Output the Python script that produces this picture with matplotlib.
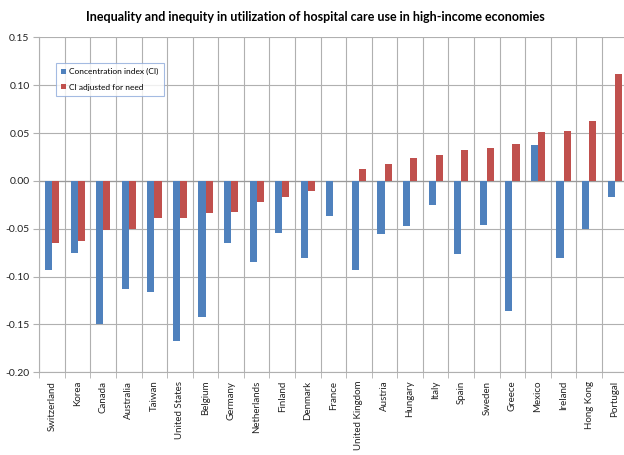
import numpy as np
import matplotlib.pyplot as plt

plt.rcParams['font.family'] = ['Lato', 'DejaVu Sans']

countries = ['Switzerland', 'Korea', 'Canada', 'Australia', 'Taiwan', 'United States',
             'Belgium', 'Germany', 'Netherlands', 'Finland', 'Denmark', 'France',
             'United Kingdom', 'Austria', 'Hungary', 'Italy', 'Spain', 'Sweden',
             'Greece', 'Mexico', 'Ireland', 'Hong Kong', 'Portugal']
ci = [-0.093, -0.075, -0.150, -0.113, -0.116, -0.167, -0.142, -0.065, -0.085, -0.054,
      -0.081, -0.037, -0.093, -0.055, -0.047, -0.025, -0.076, -0.046, -0.136, 0.038,
      -0.081, -0.050, -0.017]
ci_adj = [-0.065, -0.063, -0.051, -0.050, -0.039, -0.039, -0.034, -0.033, -0.022, -0.017,
          -0.011, 0.0, 0.012, 0.018, 0.024, 0.027, 0.032, 0.034, 0.039, 0.051,
          0.052, 0.063, 0.112]
yticks = [0.15, 0.10, 0.05, 0.00, -0.05, -0.10, -0.15, -0.20]

blue = '#4F81BD'
red = '#C0504D'
grid = '#b0b0b0'

fig = plt.figure(figsize=(6.24, 4.55), dpi=100)
ax = fig.add_axes([39.3 / 624, 1 - 372.3 / 455, 588.2 / 624, 335 / 455])

x = np.arange(len(countries))
w = 0.28
ax.bar(x - w / 2, ci, w, color=blue, label='Concentration index (CI)', zorder=3)
ax.bar(x + w / 2, ci_adj, w, color=red, label='CI adjusted for need', zorder=3)

ax.set_xlim(-0.5, len(countries) - 0.5)
ax.set_ylim(-0.20, 0.15)
ax.set_yticks(yticks)
ax.set_yticklabels([f'{v:.2f}' for v in yticks], fontsize=7.5, color='#222222')
ax.set_xticks(x)
ax.set_xticklabels(countries, rotation=90, fontsize=7, color='#222222')
ax.tick_params(axis='x', length=0, pad=6)
ax.tick_params(axis='y', length=4, color=grid, pad=3)

# category boundary gridlines
ax.set_xticks(np.arange(-0.5, len(countries), 1), minor=True)
ax.tick_params(axis='x', which='minor', length=4, color=grid)
ax.grid(True, which='minor', axis='x', color=grid, lw=0.8, zorder=0)
ax.grid(True, which='major', axis='y', color=grid, lw=0.8, zorder=0)
ax.axhline(0, color='#999999', lw=0.9, zorder=2)

for s in ['top', 'right']:
    ax.spines[s].set_visible(False)
for s in ['left', 'bottom']:
    ax.spines[s].set_color(grid)
    ax.spines[s].set_linewidth(0.8)

fig.text(0.505, 0.963, 'Inequality and inequity in utilization of hospital care use in high-income economies',
         ha='center', va='center', fontsize=9, fontweight='bold')

leg = ax.legend(loc='upper left', bbox_to_anchor=(0.021, 0.935), fontsize=6, frameon=True,
                fancybox=False, handlelength=0.6, handleheight=0.6, handletextpad=0.4,
                labelspacing=1.0, borderpad=0.6)
leg.get_frame().set_edgecolor('#8eaadb')
leg.get_frame().set_linewidth(0.8)

plt.savefig('out.png', dpi=100)
plt.close()
